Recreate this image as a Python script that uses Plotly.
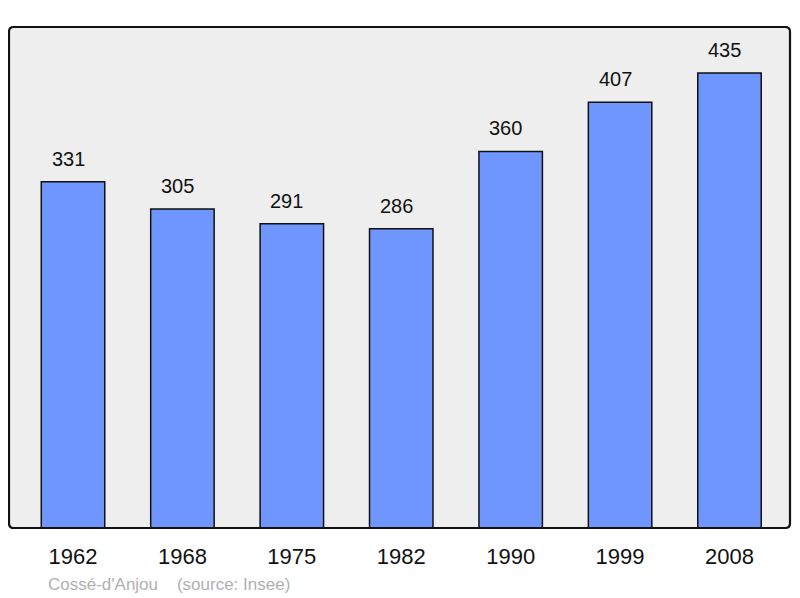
import plotly.graph_objects as go

years = ["1962", "1968", "1975", "1982", "1990", "1999", "2008"]
population = [331, 305, 291, 286, 360, 407, 435]

bar_color = "#6f96ff"
font_family = "Liberation Sans, Arial, sans-serif"

fig = go.Figure()
fig.add_trace(go.Bar(
    x=years,
    y=population,
    width=0.58,
    marker=dict(color=bar_color, line=dict(color="#111111", width=1.5)),
    hoverinfo="x+y",
))

# value labels above each bar (category index as x)
for i, val in enumerate(population):
    fig.add_annotation(x=i, y=val, text=str(val), showarrow=False,
                       yanchor="bottom", yshift=10, xshift=-5,
                       font=dict(size=20, color="#111111", family=font_family))

# source line under the chart
fig.add_annotation(x=0.047, y=-0.112, xref="paper", yref="paper",
                   text="Cossé-d'Anjou    (source: Insee)",
                   showarrow=False, xanchor="left", yanchor="middle",
                   font=dict(size=17, color="#b0b0b0", family=font_family))

# page body keeps an 8px margin, so the figure is 8px smaller each way
fig.update_layout(
    width=792, height=590,
    margin=dict(l=1, r=10, t=19, b=70),
    paper_bgcolor="white",
    plot_bgcolor="#eeeeee",
    showlegend=False,
    font=dict(family=font_family),
    xaxis=dict(type="category", range=[-0.585, 6.553], showgrid=False, zeroline=False,
               ticks="", ticklabelstandoff=13,
               tickfont=dict(size=22, color="#111111")),
    yaxis=dict(range=[0, 479], showgrid=False, zeroline=False,
               showticklabels=False, ticks=""),
)

# rounded frame round the plot area
r = 0.006
fig.add_shape(type="path", xref="paper", yref="paper",
              path=(f"M {r},0 L {1-r},0 Q 1,0 1,{r*1.6} L 1,{1-r*1.6} Q 1,1 {1-r},1 "
                    f"L {r},1 Q 0,1 0,{1-r*1.6} L 0,{r*1.6} Q 0,0 {r},0 Z"),
              line=dict(color="#111111", width=2.2), layer="above")

fig.write_html("out.html")
